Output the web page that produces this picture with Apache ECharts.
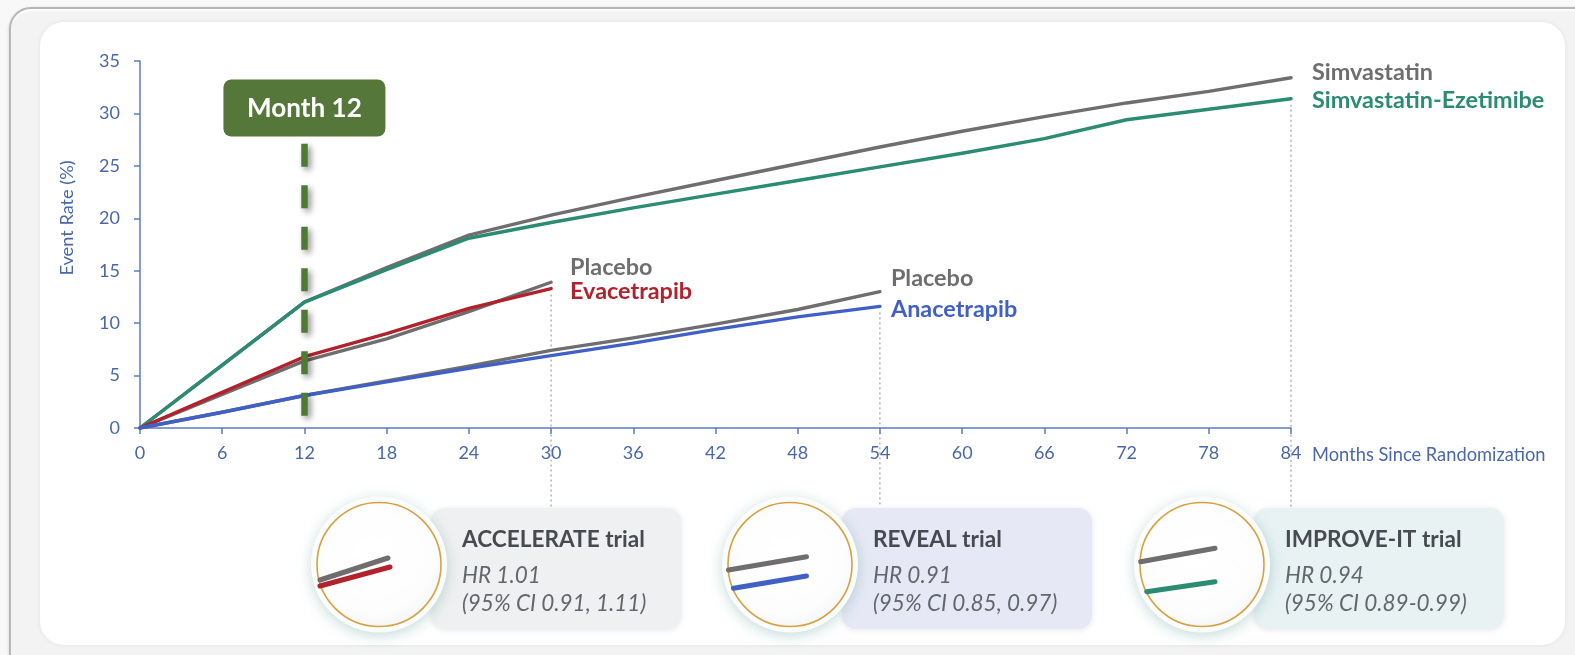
<!DOCTYPE html>
<html>
<head>
<meta charset="utf-8">
<title>Event rates in lipid trials</title>
<script src="https://cdn.jsdelivr.net/npm/echarts@6/dist/echarts.min.js"></script>
<style>
  html, body { margin: 0; padding: 0; width: 1575px; height: 655px; overflow: hidden; background: #f8f8f8; }
  #frame { position: absolute; left: 9px; top: 7px; width: 1610px; height: 700px; box-sizing: border-box;
           border: 2px solid #b7b7b7; border-radius: 22px; background: #f3f3f3;
           box-shadow: 0 1px 3px rgba(0,0,0,.18), inset 0 2px 2px rgba(255,255,255,.9); }
  #card { position: absolute; left: 40px; top: 22px; width: 1525px; height: 623px; border-radius: 24px;
          background: #fff; box-shadow: 0 0 5px rgba(0,0,0,.07); }
  #chart { position: absolute; left: 0; top: 0; width: 1575px; height: 655px; }
</style>
</head>
<body>
<div id="frame"></div>
<div id="card"></div>
<div id="chart"></div>
<script>
// Cumulative event rate (%) by months since randomization
const improveMonths = [0, 6, 12, 18, 24, 30, 36, 42, 48, 54, 60, 66, 72, 78, 84];
const simvastatin   = [0, 6.0, 12.0, 15.3, 18.4, 20.3, 22.0, 23.6, 25.2, 26.8, 28.3, 29.7, 31.0, 32.1, 33.4];
const simvaEzetimibe = [0, 6.0, 12.0, 15.1, 18.1, 19.6, 21.0, 22.3, 23.6, 24.9, 26.2, 27.6, 29.4, 30.4, 31.4];

const accelerateMonths = [0, 6, 12, 18, 24, 30];
const acceleratePlacebo = [0, 3.2, 6.4, 8.5, 11.1, 13.9];
const evacetrapib       = [0, 3.4, 6.8, 9.0, 11.4, 13.3];

const revealMonths = [0, 6, 12, 18, 24, 30, 36, 42, 48, 54];
const revealPlacebo = [0, 1.5, 3.1, 4.5, 5.9, 7.4, 8.6, 9.9, 11.3, 13.0];
const anacetrapib   = [0, 1.5, 3.1, 4.4, 5.7, 6.9, 8.1, 9.4, 10.6, 11.6];

const monthMarker = 12;
const markerLabel = 'Month 12';

const trialNames = ['ACCELERATE trial', 'REVEAL trial', 'IMPROVE-IT trial'];
const hazardRatios = ['HR 1.01', 'HR 0.91', 'HR 0.94'];
const confidenceIntervals = ['(95% CI 0.91, 1.11)', '(95% CI 0.85, 0.97)', '(95% CI 0.89-0.99)'];

const GRAY = '#6f6d6d', GREEN = '#2b8b73', RED = '#b1222d', BLUE = '#4160c6';
const AXIS = '#5b7bbf', AXIS_TEXT = '#4a67aa';
const FONT = 'Lato, "Open Sans", sans-serif';
const FACE = 'Lato, sans-serif';

// font size that makes a string span a given width
const meter = document.createElement('canvas').getContext('2d');
function sizeFor(text, width, weight, style) {
  meter.font = (style || 'normal') + ' ' + (weight || 'normal') + ' 100px ' + FACE;
  return Math.round(1000 * width / meter.measureText(text).width) / 10;
}
const SERIES_LABEL_SIZE = sizeFor('Simvastatin-Ezetimibe', 232, 'bold');
const FLAG_SIZE = sizeFor(markerLabel, 115, 'bold');
const TITLE_SIZE = sizeFor(trialNames[0], 183, 'bold');
const BODY_SIZE = sizeFor(confidenceIntervals[0], 184, 'normal', 'italic');
const YNAME_SIZE = sizeFor('Event Rate (%)', 115);
const XNAME_SIZE = sizeFor('Months Since Randomization', 234);

const pairs = (xs, ys) => xs.map((x, i) => [x, ys[i]]);

function lineSeries(name, xs, ys, color, labelText, dx, dy, extra) {
  return Object.assign({
    name: name,
    type: 'line',
    data: pairs(xs, ys),
    symbol: 'none',
    smooth: false,
    lineStyle: { color: color, width: 3.4, cap: 'round', join: 'round' },
    itemStyle: { color: color },
    endLabel: {
      show: true,
      formatter: labelText,
      distance: 0,
      offset: [dx, dy],
      color: color,
      fontFamily: FONT,
      fontWeight: 'bold',
      fontSize: SERIES_LABEL_SIZE,
      align: 'left',
      verticalAlign: 'middle'
    },
    emphasis: { disabled: true },
    silent: true
  }, extra || {});
}

const chart = echarts.init(document.getElementById('chart'), null, { renderer: 'canvas' });

chart.setOption({
  animation: false,
  backgroundColor: 'transparent',
  grid: { left: 140, right: 284, top: 61, bottom: 227, containLabel: false },
  xAxis: {
    type: 'value', min: 0, max: 84, interval: 6,
    axisLine: { show: true, lineStyle: { color: AXIS, width: 1.5 } },
    axisTick: { show: true, length: 6, lineStyle: { color: AXIS, width: 1.5 } },
    splitLine: { show: false },
    axisLabel: { color: AXIS_TEXT, fontFamily: FONT, fontSize: 18, margin: 16 }
  },
  yAxis: {
    type: 'value', min: 0, max: 35, interval: 5,
    axisLine: { show: true, lineStyle: { color: AXIS, width: 1.5 } },
    axisTick: { show: true, length: 6, lineStyle: { color: AXIS, width: 1.5 } },
    splitLine: { show: false },
    axisLabel: { color: AXIS_TEXT, fontFamily: FONT, fontSize: 18, margin: 20 }
  },
  series: [
    lineSeries('Simvastatin', improveMonths, simvastatin, GRAY, 'Simvastatin', 21, -5, {
      markLine: {
        silent: true,
        symbol: ['none', 'none'],
        label: { show: false },
        lineStyle: { color: '#4f7a36', width: 6.5, type: [23, 18.5], cap: 'butt',
                     shadowBlur: 6, shadowColor: 'rgba(0,0,0,0.45)', shadowOffsetX: 3, shadowOffsetY: 3 },
        data: [[{ coord: [monthMarker, 27.1] }, { coord: [monthMarker, 0] }]],
        z: 10
      }
    }),
    lineSeries('Simvastatin-Ezetimibe', improveMonths, simvaEzetimibe, GREEN, 'Simvastatin-Ezetimibe', 21, 1.5),
    lineSeries('Placebo (ACCELERATE)', accelerateMonths, acceleratePlacebo, GRAY, 'Placebo', 19, -14.5),
    lineSeries('Evacetrapib', accelerateMonths, evacetrapib, RED, 'Evacetrapib', 19, 3),
    lineSeries('Placebo (REVEAL)', revealMonths, revealPlacebo, GRAY, 'Placebo', 11, -13),
    lineSeries('Anacetrapib', revealMonths, anacetrapib, BLUE, 'Anacetrapib', 11, 3)
  ]
});

// ---- decorations placed from the axis scales ----
const px = (x, y) => chart.convertToPixel({ gridIndex: 0 }, [x, y]);
const last = a => a[a.length - 1];
const els = [];

function label(text, x, y, font, fill, align, extra) {
  return Object.assign({
    type: 'text', x: x, y: y, silent: true, z: 3,
    style: { text: text, font: font, fill: fill, align: align || 'left', verticalAlign: 'middle',
             textAlign: align || 'left', textVerticalAlign: 'middle' }
  }, extra || {});
}

// axis titles
els.push(label('Event Rate (%)', 67, 218, YNAME_SIZE + 'px ' + FACE, AXIS_TEXT, 'center', { rotation: Math.PI / 2 }));
const xEnd = px(84, 0);
els.push(label('Months Since Randomization', xEnd[0] + 21, xEnd[1] + 27, XNAME_SIZE + 'px ' + FACE, AXIS_TEXT, 'left'));

// "Month 12" flag above the dashed marker
const xm = px(monthMarker, 0)[0];
els.push({
  type: 'rect', silent: true, z: 20,
  shape: { x: xm - 81, y: 79.5, width: 162, height: 57, r: 8 },
  style: { fill: '#55773a' }
});
els.push(label(markerLabel, xm, 108.5, 'bold ' + FLAG_SIZE + 'px ' + FACE, '#ffffff', 'center', { z: 21 }));

// dotted leaders from each trial's final follow-up down to its card
const leaders = [
  [last(accelerateMonths), Math.min(last(acceleratePlacebo), last(evacetrapib))],
  [last(revealMonths), Math.min(last(revealPlacebo), last(anacetrapib))],
  [last(improveMonths), Math.min(last(simvastatin), last(simvaEzetimibe))]
];
leaders.forEach(([m, v]) => {
  const p = px(m, v);
  els.push({
    type: 'line', silent: true, z: 1,
    shape: { x1: p[0], y1: p[1] + 6, x2: p[0], y2: 507 },
    style: { stroke: '#8c8c8c', lineWidth: 1, lineDash: [2, 3] }
  });
});

// trial cards: badge circle with a miniature of the two curves, plus an HR box
const cardCenters = [379, 790, 1202];
const cardFills = ['#eff0f1', '#e6e9f5', '#e8f2f3'];
const minis = [
  [[GRAY, [-59, 15.5], [9, -6.5]], [RED, [-59, 21.5], [11, 2.5]]],
  [[GRAY, [-61.5, 5.5], [16.5, -7.8]], [BLUE, [-56.5, 23.8], [16.5, 11.5]]],
  [[GRAY, [-61.3, -2.8], [13, -16.2]], [GREEN, [-55.3, 27.2], [13, 17.2]]]
];
const cy = 564.5;
cardCenters.forEach((cx, i) => {
  els.push({
    type: 'rect', silent: true, z: 2,
    shape: { x: cx + 52, y: 508, width: 250, height: 121, r: 14 },
    style: { fill: cardFills[i], shadowBlur: 6, shadowColor: 'rgba(0,0,0,0.10)', shadowOffsetY: 1 }
  });
  els.push(label(trialNames[i], cx + 83, 540, 'bold ' + TITLE_SIZE + 'px ' + FACE, '#474b51'));
  els.push(label(hazardRatios[i], cx + 83, 575.5, 'italic ' + BODY_SIZE + 'px ' + FACE, '#63676d'));
  els.push(label(confidenceIntervals[i], cx + 83, 604, 'italic ' + BODY_SIZE + 'px ' + FACE, '#63676d'));
  els.push({
    type: 'circle', silent: true, z: 4,
    shape: { cx: cx, cy: cy, r: 68 },
    style: { fill: '#fbfdfd', shadowBlur: 14, shadowColor: 'rgba(90,150,150,0.35)', shadowOffsetY: 3 }
  });
  els.push({
    type: 'circle', silent: true, z: 5,
    shape: { cx: cx, cy: cy, r: 62 },
    style: {
      fill: { type: 'radial', x: 0.45, y: 0.4, r: 0.7,
              colorStops: [{ offset: 0, color: '#ffffff' }, { offset: 0.7, color: '#fdfdfd' }, { offset: 1, color: '#eef0f0' }] },
      stroke: '#d7a13f', lineWidth: 1.6
    }
  });
  minis[i].forEach(([color, a, b]) => {
    els.push({
      type: 'line', silent: true, z: 6,
      shape: { x1: cx + a[0], y1: cy + a[1], x2: cx + b[0], y2: cy + b[1] },
      style: { stroke: color, lineWidth: 5, lineCap: 'round' }
    });
  });
});

chart.setOption({ graphic: { elements: els } });
</script>
</body>
</html>
